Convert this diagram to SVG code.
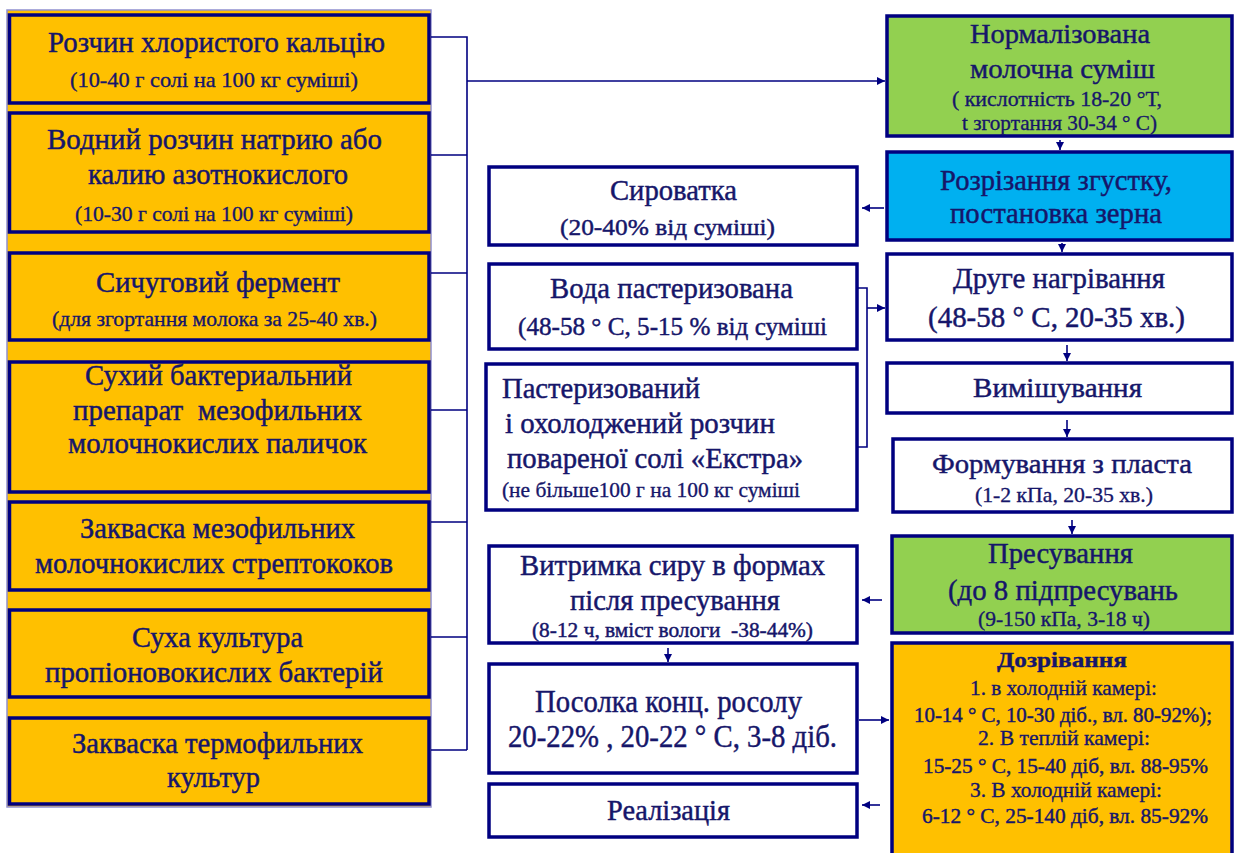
<svg xmlns="http://www.w3.org/2000/svg" width="1235" height="853" viewBox="0 0 1235 853">
<style>
text{font-family:"Liberation Serif","Times New Roman",serif;fill:#16166a;stroke:#16166a;stroke-width:0.45;text-anchor:middle;}
.m{font-size:29px;}
.s{font-size:22px;stroke-width:0.35;}
.l{text-anchor:start;}
.b{font-weight:bold;}
.box{stroke:#000080;stroke-width:3.5;}
.org{fill:#FFC000;}
.grn{fill:#92D050;}
.blu{fill:#00B0F0;}
.wht{fill:#FFFFFF;}
.ln{fill:none;stroke:#000080;stroke-width:1.6;}
</style>
<defs>
<marker id="ah" markerUnits="userSpaceOnUse" markerWidth="9" markerHeight="9" refX="8" refY="4" orient="auto">
<path d="M0,0 L8,4 L0,8 z" fill="#000080"/>
</marker>
</defs>
<rect x="0" y="0" width="1235" height="853" fill="#FFFFFF"/>
<rect x="7" y="10" width="424" height="797" fill="#FFC000" stroke="#9090d0" stroke-width="1.5"/>

<g id="connectors">
<path class="ln" d="M431,37 H467 V750 M431,155 H467 M431,273 H467 M431,410 H467 M431,522 H467 M431,637 H467 M431,750 H467"/>
<line class="ln" x1="467" y1="81" x2="885" y2="81" marker-end="url(#ah)"/>
<line class="ln" x1="1060" y1="140" x2="1060" y2="150" marker-end="url(#ah)"/>
<line class="ln" x1="1062" y1="243" x2="1062" y2="252" marker-end="url(#ah)"/>
<line class="ln" x1="1067" y1="345" x2="1067" y2="361" marker-end="url(#ah)"/>
<line class="ln" x1="1067" y1="420" x2="1067" y2="437" marker-end="url(#ah)"/>
<line class="ln" x1="1072" y1="520" x2="1072" y2="534" marker-end="url(#ah)"/>
<line class="ln" x1="884" y1="208" x2="862" y2="208" marker-end="url(#ah)"/>
<path class="ln" d="M858,288 H867 V447 H858"/>
<line class="ln" x1="867" y1="308" x2="885" y2="308" marker-end="url(#ah)"/>
<line class="ln" x1="882" y1="600" x2="862" y2="600" marker-end="url(#ah)"/>
<line class="ln" x1="668" y1="648" x2="668" y2="662" marker-end="url(#ah)"/>
<line class="ln" x1="859" y1="720" x2="889" y2="720" marker-end="url(#ah)"/>
<line class="ln" x1="880" y1="805" x2="862" y2="805" marker-end="url(#ah)"/>
</g>

<g id="n-calcium">
<rect class="box org" x="9.5" y="15" width="419.5" height="88"/>
<text class="m" x="216.5" y="52" textLength="337" lengthAdjust="spacingAndGlyphs">Розчин хлористого кальцію</text>
<text class="s" x="214" y="87" textLength="288" lengthAdjust="spacingAndGlyphs">(10-40 г солі на 100 кг суміші)</text>
</g>
<g id="n-nitrate">
<rect class="box org" x="9.5" y="113" width="419.5" height="119"/>
<text class="m" x="214.5" y="149" textLength="335" lengthAdjust="spacingAndGlyphs">Водний розчин натрию або</text>
<text class="m" x="218" y="184" textLength="260" lengthAdjust="spacingAndGlyphs">калию азотнокислого</text>
<text class="s" x="214" y="221" textLength="278" lengthAdjust="spacingAndGlyphs">(10-30 г солі на 100 кг суміші)</text>
</g>
<g id="n-rennet">
<rect class="box org" x="9.5" y="253" width="419.5" height="87"/>
<text class="m" x="218" y="292" textLength="244" lengthAdjust="spacingAndGlyphs">Сичуговий фермент</text>
<text class="s" x="214.5" y="326" textLength="325" lengthAdjust="spacingAndGlyphs">(для згортання молока за 25-40 хв.)</text>
</g>
<g id="n-bacteria">
<rect class="box org" x="9.5" y="362" width="419.5" height="130"/>
<text class="m" x="218.5" y="385" textLength="267" lengthAdjust="spacingAndGlyphs">Сухий бактериальний</text>
<text class="m" x="217.5" y="420" textLength="289" lengthAdjust="spacingAndGlyphs" xml:space="preserve">препарат  мезофильних</text>
<text class="m" x="217.5" y="453" textLength="299" lengthAdjust="spacingAndGlyphs">молочнокислих паличок</text>
</g>
<g id="n-strepto">
<rect class="box org" x="9.5" y="502" width="419.5" height="88"/>
<text class="m" x="217.5" y="538" textLength="275" lengthAdjust="spacingAndGlyphs">Закваска мезофильних</text>
<text class="m" x="214" y="573" textLength="358" lengthAdjust="spacingAndGlyphs">молочнокислих стрептококов</text>
</g>
<g id="n-propion">
<rect class="box org" x="9.5" y="610" width="419.5" height="87"/>
<text class="m" x="217.5" y="647" textLength="171" lengthAdjust="spacingAndGlyphs">Суха культура</text>
<text class="m" x="214" y="682" textLength="338" lengthAdjust="spacingAndGlyphs">пропіоновокислих бактерій</text>
</g>
<g id="n-thermo">
<rect class="box org" x="9.5" y="718" width="419.5" height="86"/>
<text class="m" x="217.5" y="753" textLength="291" lengthAdjust="spacingAndGlyphs">Закваска термофильних</text>
<text class="m" x="213.5" y="787" textLength="93" lengthAdjust="spacingAndGlyphs">культур</text>
</g>

<g id="n-whey">
<rect class="box wht" x="489" y="167" width="368" height="78"/>
<text class="m" x="673.5" y="200" textLength="127" lengthAdjust="spacingAndGlyphs">Сироватка</text>
<text x="667.5" y="235" font-size="24" textLength="215" lengthAdjust="spacingAndGlyphs">(20-40% від суміші)</text>
</g>
<g id="n-water">
<rect class="box wht" x="489" y="264" width="368" height="85"/>
<text class="m" x="671.5" y="298" textLength="243" lengthAdjust="spacingAndGlyphs">Вода пастеризована</text>
<text x="672.5" y="335" font-size="26" textLength="309" lengthAdjust="spacingAndGlyphs">(48-58 ° С, 5-15 % від суміші</text>
</g>
<g id="n-brine-salt">
<rect class="box wht" x="486" y="364" width="371" height="146"/>
<text class="m l" x="502" y="398" textLength="198" lengthAdjust="spacingAndGlyphs">Пастеризований</text>
<text class="m l" x="505" y="433" textLength="270" lengthAdjust="spacingAndGlyphs">і охолоджений розчин</text>
<text class="m l" x="507" y="468" textLength="296" lengthAdjust="spacingAndGlyphs">повареної солі «Екстра»</text>
<text class="s l" x="502" y="497" textLength="298" lengthAdjust="spacingAndGlyphs">(не більше100 г на 100 кг суміші</text>
</g>
<g id="n-hold">
<rect class="box wht" x="489" y="546" width="368" height="97"/>
<text class="m" x="672.5" y="575" textLength="305" lengthAdjust="spacingAndGlyphs">Витримка сиру в формах</text>
<text class="m" x="675" y="610" textLength="210" lengthAdjust="spacingAndGlyphs">після пресування</text>
<text x="672.5" y="637" font-size="21" stroke-width="0.35" textLength="281" lengthAdjust="spacingAndGlyphs" xml:space="preserve">(8-12 ч, вміст вологи  -38-44%)</text>
</g>
<g id="n-salting">
<rect class="box wht" x="489" y="664" width="368" height="109"/>
<text x="668.5" y="712" font-size="31" textLength="267" lengthAdjust="spacingAndGlyphs">Посолка конц. росолу</text>
<text x="672.5" y="747" font-size="31" textLength="329" lengthAdjust="spacingAndGlyphs">20-22% , 20-22 ° С, 3-8 діб.</text>
</g>
<g id="n-sale">
<rect class="box wht" x="489" y="784" width="368" height="53"/>
<text class="m" x="668.5" y="820" textLength="123" lengthAdjust="spacingAndGlyphs">Реалізація</text>
</g>

<g id="n-milk">
<rect class="box grn" x="887" y="16" width="345" height="120"/>
<text x="1060" y="43" font-size="28" textLength="180" lengthAdjust="spacingAndGlyphs">Нормалізована</text>
<text x="1062.5" y="78" font-size="28" textLength="185" lengthAdjust="spacingAndGlyphs">молочна суміш</text>
<text class="s" x="1057" y="106" textLength="210" lengthAdjust="spacingAndGlyphs">( кислотність 18-20 °Т,</text>
<text class="s" x="1059.5" y="130" textLength="195" lengthAdjust="spacingAndGlyphs">t згортання 30-34 ° С)</text>
</g>
<g id="n-cutting">
<rect class="box blu" x="887" y="152" width="345" height="88"/>
<text class="m" x="1056" y="190" textLength="232" lengthAdjust="spacingAndGlyphs">Розрізання згустку,</text>
<text class="m" x="1056" y="223" textLength="212" lengthAdjust="spacingAndGlyphs">постановка зерна</text>
</g>
<g id="n-heating">
<rect class="box wht" x="887" y="254" width="345" height="86"/>
<text class="m" x="1059" y="288" textLength="212" lengthAdjust="spacingAndGlyphs">Друге нагрівання</text>
<text class="m" x="1056.5" y="327" textLength="257" lengthAdjust="spacingAndGlyphs">(48-58 ° С, 20-35 хв.)</text>
</g>
<g id="n-mixing">
<rect class="box wht" x="887" y="363" width="345" height="50"/>
<text x="1057.5" y="397" font-size="27" textLength="169" lengthAdjust="spacingAndGlyphs">Вимішування</text>
</g>
<g id="n-forming">
<rect class="box wht" x="893" y="439" width="339" height="73"/>
<text x="1062" y="473" font-size="28" textLength="260" lengthAdjust="spacingAndGlyphs">Формування з пласта</text>
<text class="s" x="1064" y="502" textLength="178" lengthAdjust="spacingAndGlyphs">(1-2 кПа, 20-35 хв.)</text>
</g>
<g id="n-pressing">
<rect class="box grn" x="892" y="536" width="340" height="97"/>
<text class="m" x="1060.5" y="563" textLength="145" lengthAdjust="spacingAndGlyphs">Пресування</text>
<text class="m" x="1063" y="600" textLength="230" lengthAdjust="spacingAndGlyphs">(до 8 підпресувань</text>
<text class="s" x="1064" y="626" textLength="172" lengthAdjust="spacingAndGlyphs">(9-150 кПа, 3-18 ч)</text>
</g>
<g id="n-ripening">
<rect class="box org" x="892" y="643" width="340" height="215"/>
<text class="s b" x="1062" y="667" textLength="130" lengthAdjust="spacingAndGlyphs">Дозрівання</text>
<text class="s" x="1063.5" y="695" textLength="187" lengthAdjust="spacingAndGlyphs">1. в холодній камері:</text>
<text x="1063" y="722" font-size="21" stroke-width="0.35" textLength="298" lengthAdjust="spacingAndGlyphs">10-14 ° С, 10-30 діб., вл. 80-92%);</text>
<text class="s" x="1064" y="745" textLength="172" lengthAdjust="spacingAndGlyphs">2. В теплій камері:</text>
<text x="1065.5" y="773" font-size="22" stroke-width="0.35" textLength="285" lengthAdjust="spacingAndGlyphs">15-25 ° С, 15-40 діб, вл. 88-95%</text>
<text class="s" x="1066" y="797" textLength="192" lengthAdjust="spacingAndGlyphs">3. В холодній камері:</text>
<text x="1065" y="823" font-size="22" stroke-width="0.35" textLength="286" lengthAdjust="spacingAndGlyphs">6-12 ° С, 25-140 діб, вл. 85-92%</text>
</g>
</svg>
